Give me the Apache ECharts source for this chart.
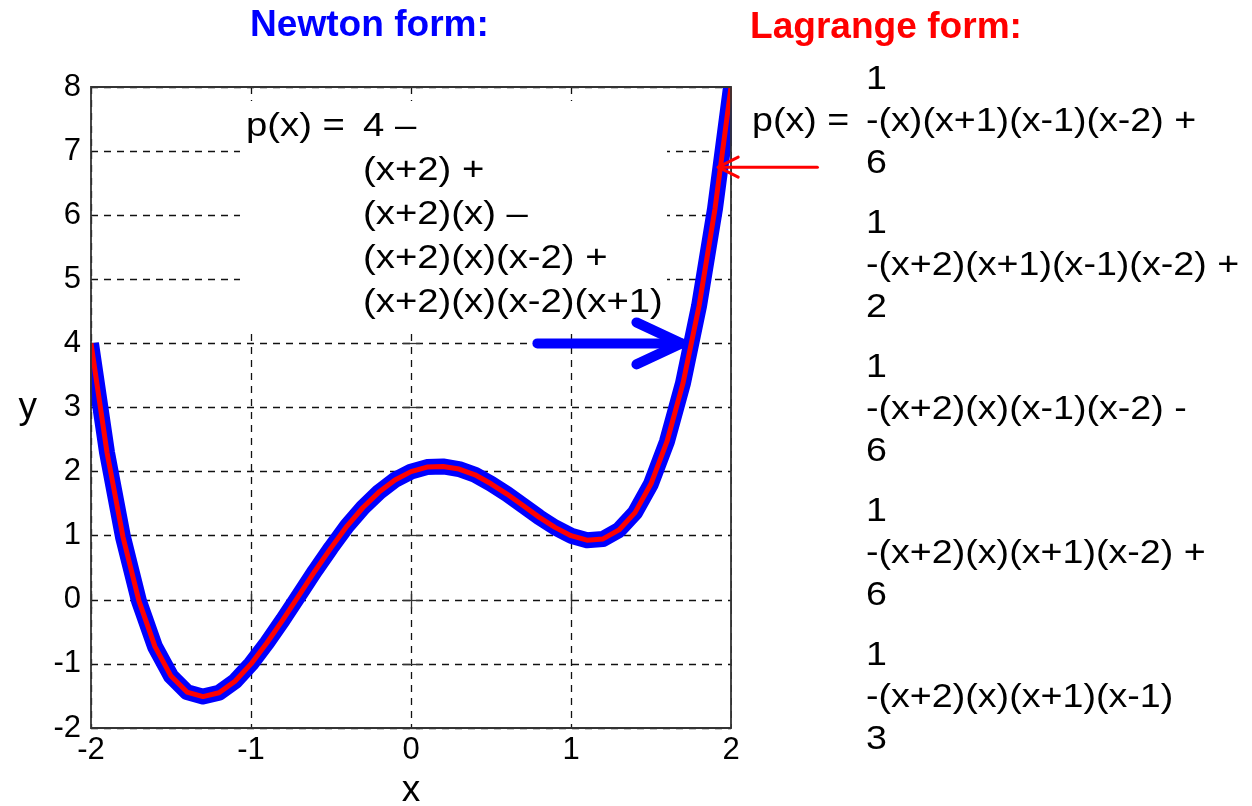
<!DOCTYPE html>
<html>
<head>
<meta charset="utf-8">
<script src="https://cdn.jsdelivr.net/npm/echarts@6/dist/echarts.min.js"></script>
<style>
  html, body { margin: 0; padding: 0; background: #ffffff; }
  #chart { width: 1252px; height: 806px; }
</style>
</head>
<body>
<div id="chart"></div>
<script>
// Sample points of the interpolating polynomial through (-2,4), (-1,-1), (0,2), (1,1), (2,8)
const xValues = [
  -2.0, -1.9, -1.8, -1.7, -1.6, -1.5, -1.4, -1.3, -1.2, -1.1,
  -1.0, -0.9, -0.8, -0.7, -0.6, -0.5, -0.4, -0.3, -0.2, -0.1,
   0.0,  0.1,  0.2,  0.3,  0.4,  0.5,  0.6,  0.7,  0.8,  0.9,
   1.0,  1.1,  1.2,  1.3,  1.4,  1.5,  1.6,  1.7,  1.8,  1.9,
   2.0
];
const pValues = [
   4.00,  2.30,  0.98, -0.02, -0.73, -1.19, -1.44, -1.51, -1.45, -1.27,
  -1.00, -0.67, -0.31,  0.07,  0.45,  0.81,  1.15,  1.44,  1.68,  1.87,
   2.00,  2.07,  2.08,  2.04,  1.95,  1.81,  1.65,  1.47,  1.29,  1.13,
   1.00,  0.93,  0.95,  1.09,  1.36,  1.81,  2.47,  3.38,  4.58,  6.10,
   8.00
];

// Axis ranges (tick step 1)
const xRange = [-2, 2];
const yRange = [-2, 8];

// Formula texts
const newtonTitle = 'Newton form:';
const lagrangeTitle = 'Lagrange form:';
const newtonLead = 'p(x) =';
const newtonLines = [
  '4 –',
  '(x+2) +',
  '(x+2)(x) –',
  '(x+2)(x)(x-2) +',
  '(x+2)(x)(x-2)(x+1)'
];
const lagrangeLead = 'p(x) =';
const lagrangeTerms = [
  ['1', '-(x)(x+1)(x-1)(x-2) +', '6'],
  ['1', '-(x+2)(x+1)(x-1)(x-2) +', '2'],
  ['1', '-(x+2)(x)(x-1)(x-2) -', '6'],
  ['1', '-(x+2)(x)(x+1)(x-2) +', '6'],
  ['1', '-(x+2)(x)(x+1)(x-1)', '3']
];

// Arrow annotations in data coordinates: [tail, tip]
const newtonArrow = [[0.79, 4], [1.69, 4]];
const lagrangeArrow = [[2.54, 6.75], [1.92, 6.75]];

const FONT = '"Liberation Sans", Arial, Helvetica, sans-serif';
const INK = '#111111';
const FRAME = '#333333';
const curve = xValues.map((x, i) => [x, pValues[i]]);

const chart = echarts.init(document.getElementById('chart'), null, { renderer: 'canvas' });

const splitStyle = { show: true, lineStyle: { color: INK, width: 1.3, type: [7, 6] } };
const tickStyle = { show: true, inside: true, length: 9, lineStyle: { color: FRAME, width: 1.3 } };
const labelStyle = { fontFamily: FONT, fontSize: 31, color: '#000000' };

const option = {
  animation: false,
  backgroundColor: '#ffffff',
  grid: { left: 91, right: 521, top: 87, bottom: 78, containLabel: false, outerBoundsMode: 'none' },
  xAxis: [
    {
      type: 'value', min: xRange[0], max: xRange[1], interval: 1, position: 'bottom',
      axisLine: { show: false }, axisTick: tickStyle,
      axisLabel: Object.assign({ margin: 7, showMinLabel: true, showMaxLabel: true }, labelStyle),
      splitLine: splitStyle,
      name: 'x', nameLocation: 'middle', nameGap: 44,
      nameTextStyle: { fontFamily: FONT, fontSize: 37, color: '#000000' }
    },
    {
      type: 'value', min: xRange[0], max: xRange[1], interval: 1, position: 'top',
      axisLine: { show: false }, axisTick: tickStyle,
      axisLabel: { show: false }, splitLine: { show: false }
    }
  ],
  yAxis: [
    {
      type: 'value', min: yRange[0], max: yRange[1], interval: 1, position: 'left',
      axisLine: { show: false }, axisTick: tickStyle,
      axisLabel: Object.assign({ margin: 10, showMinLabel: true, showMaxLabel: true }, labelStyle),
      splitLine: splitStyle,
      name: 'y', nameLocation: 'middle', nameGap: 54, nameRotate: 0,
      nameTextStyle: { fontFamily: FONT, fontSize: 37, color: '#000000' }
    },
    {
      type: 'value', min: yRange[0], max: yRange[1], interval: 1, position: 'right',
      axisLine: { show: false }, axisTick: tickStyle,
      axisLabel: { show: false }, splitLine: { show: false }
    }
  ],
  series: [
    {
      name: 'Newton form', type: 'line', data: curve, xAxisIndex: 0, yAxisIndex: 0,
      symbol: 'none', showSymbol: false, smooth: false, z: 3,
      lineStyle: { color: '#0000ff', width: 16, join: 'round' }
    },
    {
      name: 'Lagrange form', type: 'line', data: curve, xAxisIndex: 0, yAxisIndex: 0,
      symbol: 'none', showSymbol: false, smooth: false, z: 4,
      lineStyle: { color: '#ff0000', width: 5, join: 'round' }
    }
  ]
};

chart.setOption(option);

// Overlay: frame, masks along the frame, text blocks and arrows
const toPx = (p) => chart.convertToPixel({ xAxisIndex: 0, yAxisIndex: 0 }, p);
const tl = toPx([xRange[0], yRange[1]]);
const br = toPx([xRange[1], yRange[0]]);
const gw = br[0] - tl[0];
const gh = br[1] - tl[1];

function text(str, x, y, opts) {
  opts = opts || {};
  return {
    type: 'text', x: x, y: y, z: opts.z || 20,
    scaleX: opts.scaleX || 1, scaleY: 1,
    style: {
      text: str,
      fill: opts.color || '#000000',
      font: (opts.weight || 'normal') + ' ' + (opts.size || 32) + 'px ' + FONT,
      textAlign: 'left',
      textVerticalAlign: 'middle'
    }
  };
}

function arrow(spec, color, width, headLen, headHalf, z) {
  const tail = toPx(spec[0]);
  const tip = toPx(spec[1]);
  const dir = Math.sign(tip[0] - tail[0]);
  const back = tip[0] - dir * headLen;
  const style = { stroke: color, lineWidth: width, lineCap: 'round', lineJoin: 'round', fill: null };
  return [
    { type: 'line', z: z, shape: { x1: tail[0], y1: tail[1], x2: tip[0], y2: tip[1] }, style: style },
    { type: 'polyline', z: z, shape: { points: [[back, tip[1] - headHalf], [tip[0], tip[1]], [back, tip[1] + headHalf]] }, style: style }
  ];
}

const FORMULA_SIZE = 33;
const graphics = [];

// white strips outside the plot area keep the thick curve inside the frame
graphics.push({ type: 'rect', z: 8, shape: { x: tl[0] - 10, y: tl[1] - 10, width: 9.1, height: gh + 10 }, style: { fill: '#ffffff' } });
graphics.push({ type: 'rect', z: 8, shape: { x: tl[0] - 10, y: tl[1] - 10, width: gw + 20, height: 9.1 }, style: { fill: '#ffffff' } });
graphics.push({ type: 'rect', z: 8, shape: { x: br[0] + 0.9, y: tl[1] - 10, width: 10, height: gh + 10 }, style: { fill: '#ffffff' } });

// plot frame
graphics.push({ type: 'rect', z: 10, shape: { x: tl[0], y: tl[1], width: gw, height: gh }, style: { fill: null, stroke: FRAME, lineWidth: 1.8 } });

// Newton form block with white backing
graphics.push({ type: 'rect', z: 1, shape: { x: 240, y: 101, width: 427, height: 227 }, style: { fill: '#ffffff' } });
graphics.push(text(newtonLead, 246, 127, { size: FORMULA_SIZE, scaleX: 1.16, z: 2 }));
newtonLines.forEach((line, i) => {
  graphics.push(text(line, 363, 127 + 44 * i, { size: FORMULA_SIZE, scaleX: 1.16, z: 2 }));
});

// titles
graphics.push(text(newtonTitle, 250, 26, { size: 36, weight: 'bold', color: '#0000ff', scaleX: 1.03 }));
graphics.push(text(lagrangeTitle, 750, 28, { size: 36, weight: 'bold', color: '#ff0000', scaleX: 1.03 }));

// Lagrange form block
graphics.push(text(lagrangeLead, 752, 122, { size: FORMULA_SIZE, scaleX: 1.14 }));
lagrangeTerms.forEach((term, i) => {
  const y0 = 80 + 144 * i;
  graphics.push(text(term[0], 866, y0, { size: FORMULA_SIZE, scaleX: 1.14 }));
  graphics.push(text(term[1], 866, y0 + 42, { size: FORMULA_SIZE, scaleX: 1.14 }));
  graphics.push(text(term[2], 866, y0 + 84, { size: FORMULA_SIZE, scaleX: 1.14 }));
});

// arrows pointing at the curve
arrow(newtonArrow, '#0000ff', 10, 45, 21, 12).forEach(g => graphics.push(g));
arrow(lagrangeArrow, '#ff0000', 3, 20, 10, 12).forEach(g => graphics.push(g));

chart.setOption({ graphic: { elements: graphics } });
</script>
</body>
</html>
